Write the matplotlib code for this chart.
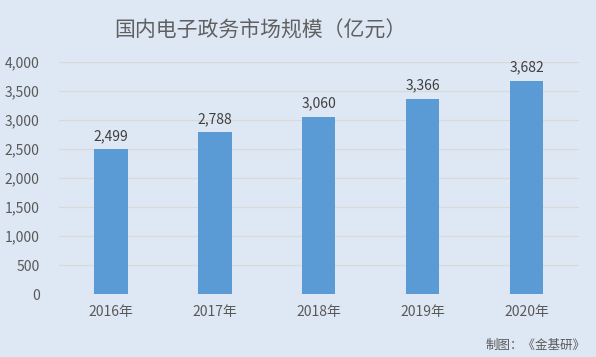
import matplotlib.pyplot as plt

plt.rcParams['font.family'] = ['Noto Sans CJK SC', 'DejaVu Sans']

years = ['2016年', '2017年', '2018年', '2019年', '2020年']
values = [2499, 2788, 3060, 3366, 3682]

BG = '#dee8f4'
BAR = '#5b9bd5'
TXT = '#595959'

fig = plt.figure(figsize=(5.96, 3.57), dpi=100)
fig.patch.set_facecolor(BG)
ax = fig.add_axes([0.099, 0.176, 0.872, 0.65])
ax.set_facecolor(BG)

x = range(len(years))
bars = ax.bar(x, values, width=0.32, color=BAR, zorder=3)
for xi, v in zip(x, values):
    ax.text(xi, v + 110, '{:,}'.format(v), ha='center', va='bottom',
            fontsize=10, color='#404040')

ax.set_xlim(-0.5, 4.5)
ax.set_ylim(0, 4000)
ax.set_yticks(range(0, 4001, 500))
ax.set_yticklabels(['{:,}'.format(t) for t in range(0, 4001, 500)])
ax.set_xticks(list(x))
ax.set_xticklabels(years)
ax.tick_params(axis='both', length=0, labelsize=10, labelcolor=TXT)
ax.tick_params(axis='y', pad=14)
ax.tick_params(axis='x', pad=8)
ax.grid(axis='y', color='#d9d9d9', lw=0.9, zorder=0)
for s in ax.spines.values():
    s.set_visible(False)

fig.text(0.437, 0.915, '国内电子政务市场规模（亿元）', ha='center', va='center',
         fontsize=15, color='#606060')
fig.text(0.983, 0.033, '制图：《金基研》', ha='right', va='center',
         fontsize=9, color=TXT)

fig.savefig('out.png', dpi=100, facecolor=BG)
